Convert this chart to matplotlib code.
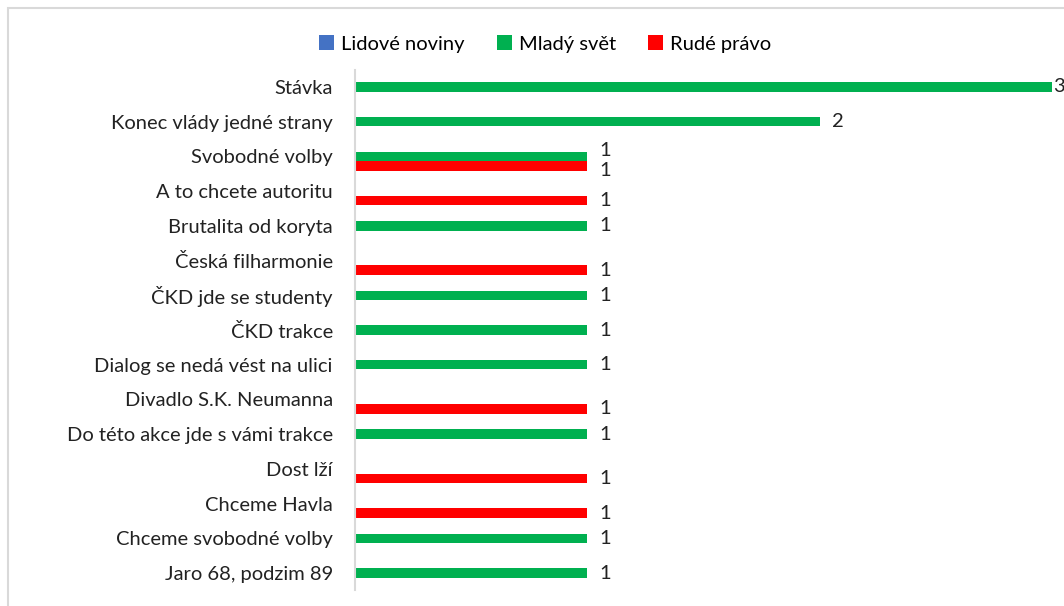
import matplotlib.pyplot as plt
import numpy as np
from matplotlib.patches import Rectangle

categories = [
    "Stávka",
    "Konec vlády jedné strany",
    "Svobodné volby",
    "A to chcete autoritu",
    "Brutalita od koryta",
    "Česká filharmonie",
    "ČKD jde se studenty",
    "ČKD trakce",
    "Dialog se nedá vést na ulici",
    "Divadlo S.K. Neumanna",
    "Do této akce jde s vámi trakce",
    "Dost lží",
    "Chceme Havla",
    "Chceme svobodné volby",
    "Jaro 68, podzim 89",
]
lidove_noviny = [0, 0, 0, 0, 0, 0, 0, 0, 0, 0, 0, 0, 0, 0, 0]
mlady_svet = [3, 2, 1, 0, 1, 0, 1, 1, 1, 0, 1, 0, 0, 1, 1]
rude_pravo = [0, 0, 1, 1, 0, 1, 0, 0, 0, 1, 0, 1, 1, 0, 0]

series = [
    ("Lidové noviny", lidove_noviny, "#4472C4"),
    ("Mladý svět", mlady_svet, "#00B050"),
    ("Rudé právo", rude_pravo, "#FF0000"),
]

plt.rcParams["font.family"] = ["Lato", "DejaVu Sans"]
FS = 14.5

W, H = 1064, 606
fig = plt.figure(figsize=(W / 100, H / 100), dpi=100)
ax = fig.add_axes([355 / W, 1 - 590.4 / H, (W - 355) / W, (590.4 - 69.6) / H])
xmax = (W - 355) / 232.3

y = np.arange(len(categories))
h = 0.274
for i, (name, vals, color) in enumerate(series):
    pos = y + (i - 1) * h
    ax.barh(pos, vals, height=h, color=color, label=name)
    for j, v in enumerate(vals):
        if v == 0:
            continue
        # nudge labels apart where two bars share a category
        dy = 0
        if mlady_svet[j] and rude_pravo[j]:
            dy = 4 if i == 1 else -3
        dx = 9 if v + 0.1 < xmax else 1
        ax.annotate(str(v), (v, pos[j]), xytext=(dx, dy), textcoords="offset points",
                    va="center", ha="left", fontsize=FS, color="#222222",
                    annotation_clip=False)

ax.set_xlim(0, xmax)
ax.set_ylim(len(categories) - 0.5, -0.5)
ax.set_yticks(y)
ax.set_yticklabels(categories, fontsize=FS, color="#222222")
ax.tick_params(axis="y", length=0, pad=16)
ax.set_xticks([])
for s in ["top", "right", "bottom"]:
    ax.spines[s].set_visible(False)
ax.spines["left"].set_color("#D9D9D9")
ax.spines["left"].set_linewidth(1.5)

fig.legend(loc="center", bbox_to_anchor=(545 / W, 1 - 44 / H), ncol=3, frameon=False,
           fontsize=FS, handlelength=0.75, handleheight=0.75, handletextpad=0.35,
           columnspacing=1.6)

fig.patches.append(Rectangle((8 / W, -0.1), 1.2, 1 - 8 / H + 0.1, transform=fig.transFigure,
                             fill=False, edgecolor="#D9D9D9", linewidth=1.5))

fig.savefig("out.png", dpi=100)
